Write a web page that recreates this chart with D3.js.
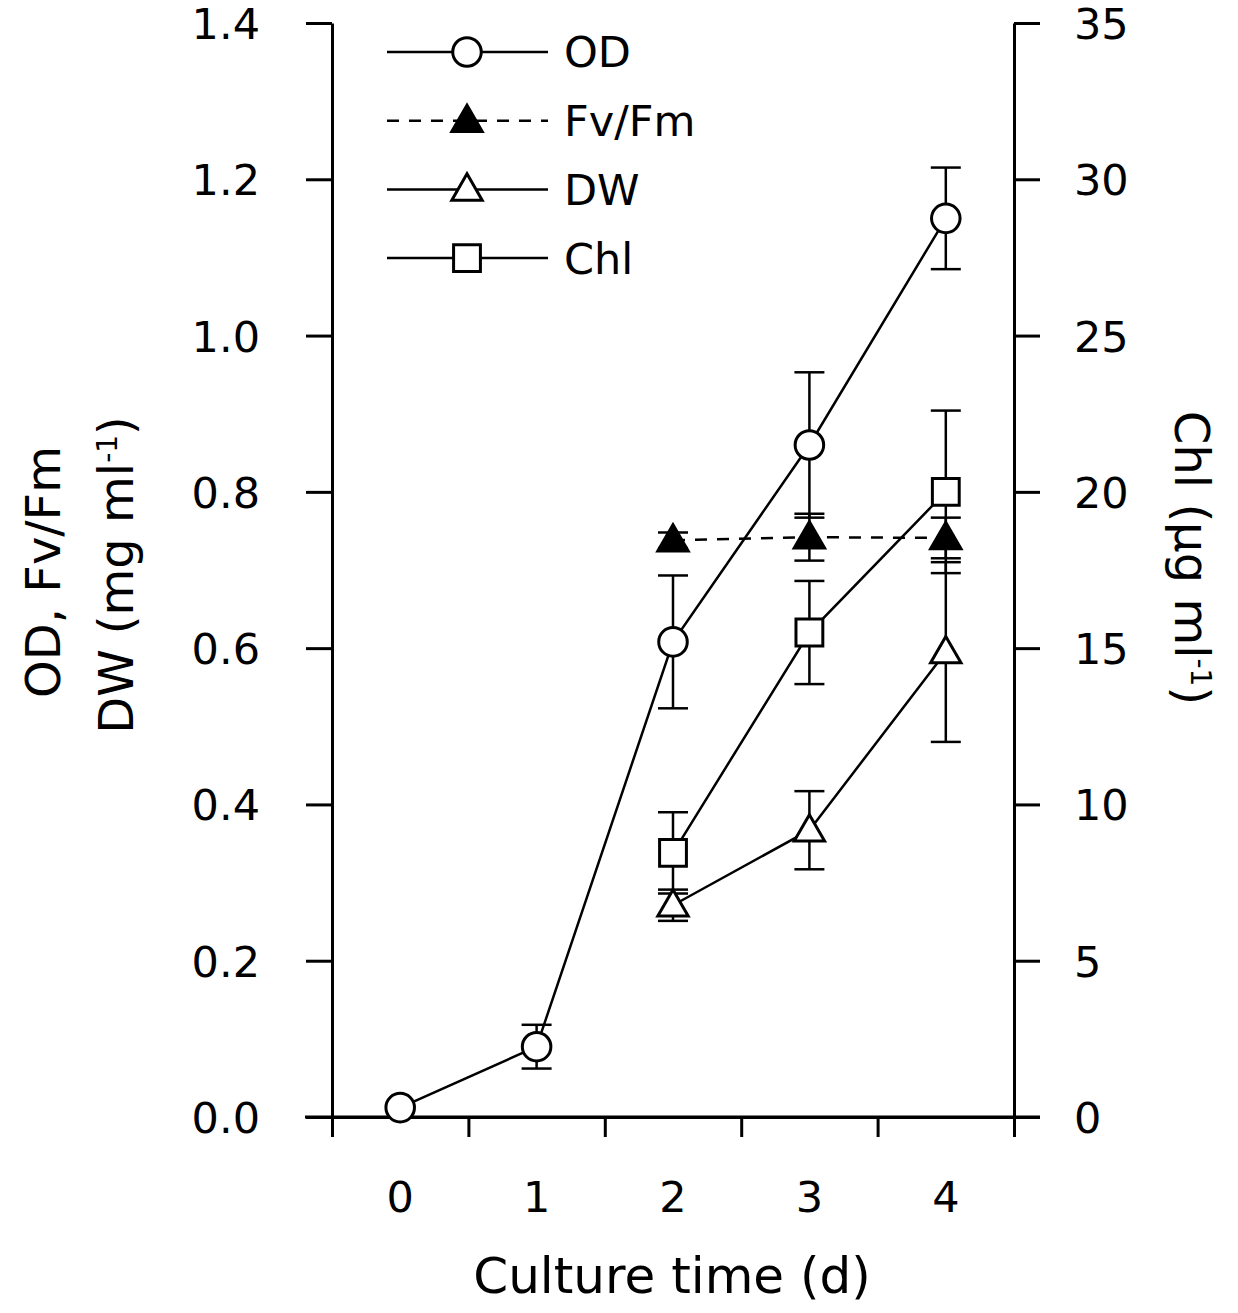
<!DOCTYPE html>
<meta charset="utf-8">
<style>
body{margin:0;background:#fff}
text{font-family:'DejaVu Sans',sans-serif;fill:#000}
</style>
<svg id="svg"></svg>
<script src="https://d3js.org/d3.v7.min.js"></script>
<script>
// data
var days = ['0','1','2','3','4'];
var odVal = [0.012, 0.09, 0.608, 0.86, 1.15];
var odErr = [0, 0.028, 0.085, 0.093, 0.065];
var fvDays = ['2','3','4'];
var fvVal = [0.738, 0.742, 0.741];
var fvErr = [0.01, 0.03, 0.026];
var dwDays = ['2','3','4'];
var dwVal = [0.271, 0.367, 0.595];
var dwErr = [0.02, 0.05, 0.115];
var chlDays = ['2','3','4'];
var chlVal = [8.45, 15.5, 20.0];
var chlErr = [1.3, 1.65, 2.6];
var leftTicks = [0, 0.2, 0.4, 0.6, 0.8, 1.0, 1.2, 1.4];
var rightTicks = [0, 5, 10, 15, 20, 25, 30, 35];

var width = 1238, height = 1313;
var svg = d3.select('#svg').attr('width', width).attr('height', height);

var x = d3.scaleBand().domain(days).range([332, 1014]);
var xb = d3.scaleLinear().domain([0, 5]).range([332, 1014]);
var yL = d3.scaleLinear().domain([0, 1.4]).range([1117, 23]);
var yR = d3.scaleLinear().domain([0, 35]).range([1117, 23]);
var cx = d => x(d) + x.bandwidth() / 2;

var fs = 43;

// axes
var gl = svg.append('g').attr('transform', 'translate(332,0)')
  .call(d3.axisLeft(yL).tickValues(leftTicks).tickFormat(d3.format('.1f')).tickSize(26).tickSizeOuter(0).tickPadding(46));
var gr = svg.append('g').attr('transform', 'translate(1014,0)')
  .call(d3.axisRight(yR).tickValues(rightTicks).tickFormat(d3.format('d')).tickSize(26).tickSizeOuter(0).tickPadding(34));
var gx = svg.append('g').attr('transform', 'translate(0,1117)')
  .call(d3.axisBottom(xb).ticks(5).tickFormat('').tickSize(20).tickSizeOuter(0));
var gxl = svg.append('g').attr('transform', 'translate(0,1117)')
  .call(d3.axisBottom(x).tickSize(0).tickPadding(64));
gxl.select('.domain').remove();
[gl, gr, gx].forEach(g => {
  g.selectAll('line').attr('stroke', '#000').attr('stroke-width', 3);
  g.select('.domain').attr('stroke', '#000').attr('stroke-width', 3);
});
[gl, gr, gxl].forEach(g => g.selectAll('text').style('font-size', fs + 'px')
  .style('font-family', "'DejaVu Sans',sans-serif").attr('fill', '#000'));
gl.selectAll('.tick text').attr('dy', '0.36em');
gr.selectAll('.tick text').attr('dy', '0.36em');
// x axis line extends past the two y axes
svg.append('line').attr('x1', 305).attr('x2', 1040).attr('y1', 1117).attr('y2', 1117)
  .attr('stroke', '#000').attr('stroke-width', 3);

// axis titles
svg.append('text').attr('x', 672).attr('y', 1293).attr('text-anchor', 'middle')
  .style('font-size', '50px').text('Culture time (d)');
svg.append('text').attr('transform', 'translate(60,572) rotate(-90)')
  .attr('text-anchor', 'middle').style('font-size', '48px').text('OD, Fv/Fm');
var t2 = svg.append('text').attr('transform', 'translate(133,575) rotate(-90)')
  .attr('text-anchor', 'middle').style('font-size', '48px');
t2.append('tspan').text('DW (mg ml');
t2.append('tspan').attr('dy', -16).style('font-size', '28px').text('-1');
t2.append('tspan').attr('dy', 16).text(')');
var t3 = svg.append('text').attr('transform', 'translate(1175,558) rotate(90)')
  .attr('text-anchor', 'middle').style('font-size', '48px');
t3.append('tspan').text('Chl (µg ml');
t3.append('tspan').attr('dy', -16).style('font-size', '28px').text('-1');
t3.append('tspan').attr('dy', 16).text(')');

// series
var series = [
  {name: 'OD', d: days, v: odVal, e: odErr, y: yL, shape: 'circle', fill: '#fff', dash: null},
  {name: 'Fv/Fm', d: fvDays, v: fvVal, e: fvErr, y: yL, shape: 'triangle', fill: '#000', dash: '12,10'},
  {name: 'DW', d: dwDays, v: dwVal, e: dwErr, y: yL, shape: 'triangle', fill: '#fff', dash: null},
  {name: 'Chl', d: chlDays, v: chlVal, e: chlErr, y: yR, shape: 'square', fill: '#fff', dash: null}
];

var sym = {
  circle: d3.symbol().type(d3.symbolCircle).size(640),
  triangle: d3.symbol().type(d3.symbolTriangle).size(400),
  square: d3.symbol().type(d3.symbolSquare).size(720)
};

var gLines = svg.append('g'), gErr = svg.append('g'), gPts = svg.append('g');

series.forEach(s => {
  var pts = s.d.map((d, i) => ({x: cx(d), y: s.y(s.v[i]), lo: s.y(s.v[i] - s.e[i]), hi: s.y(s.v[i] + s.e[i])}));
  gLines.append('path').datum(pts)
    .attr('d', d3.line().x(p => p.x).y(p => p.y))
    .attr('fill', 'none').attr('stroke', '#000').attr('stroke-width', 2.5)
    .attr('stroke-dasharray', s.dash);
  pts.forEach(p => {
    if (p.lo - p.hi < 1) return;
    gErr.append('line').attr('x1', p.x).attr('x2', p.x).attr('y1', p.lo).attr('y2', p.hi)
      .attr('stroke', '#000').attr('stroke-width', 2.5);
    [p.lo, p.hi].forEach(yy => gErr.append('line').attr('x1', p.x - 15).attr('x2', p.x + 15)
      .attr('y1', yy).attr('y2', yy).attr('stroke', '#000').attr('stroke-width', 2.5));
  });
  gPts.selectAll(null).data(pts).enter().append('path')
    .attr('d', sym[s.shape])
    .attr('transform', p => 'translate(' + p.x + ',' + (p.y + (s.shape === 'triangle' ? 2 : 0)) + ')')
    .attr('fill', s.fill).attr('stroke', '#000').attr('stroke-width', 3);
});

// legend
var lg = svg.append('g');
series.forEach((s, i) => {
  var yy = 52 + i * 68.7;
  lg.append('line').attr('x1', 387).attr('x2', 548).attr('y1', yy).attr('y2', yy)
    .attr('stroke', '#000').attr('stroke-width', 2.5).attr('stroke-dasharray', s.dash);
  lg.append('path').attr('d', sym[s.shape])
    .attr('transform', 'translate(467,' + (yy + (s.shape === 'triangle' ? 2 : 0)) + ')')
    .attr('fill', s.fill).attr('stroke', '#000').attr('stroke-width', 3);
  lg.append('text').attr('x', 564).attr('y', yy).attr('dy', '0.36em')
    .style('font-size', fs + 'px').text(s.name);
});
</script>
